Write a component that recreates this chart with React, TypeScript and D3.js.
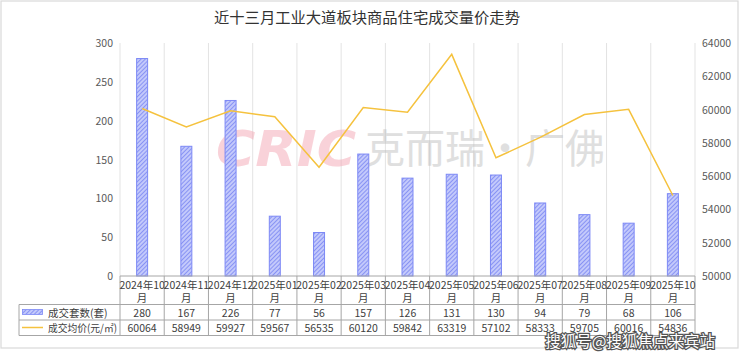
import React from "react";
import * as d3 from "d3";

const categories = ["2024年10","2024年11","2024年12","2025年01","2025年02","2025年03","2025年04","2025年05","2025年06","2025年07","2025年08","2025年09","2025年10"];
const volumes = [280, 167, 226, 77, 56, 157, 126, 131, 130, 94, 79, 68, 106];
const prices = [60064, 58949, 59927, 59567, 56535, 60120, 59842, 63319, 57102, 58333, 59705, 60016, 54836];
const leftTicks = [0, 50, 100, 150, 200, 250, 300];
const rightTicks = [50000, 52000, 54000, 56000, 58000, 60000, 62000, 64000];

const W = 740, H = 356;
const L = 120, R = 695, T = 43, B = 276;
const FONT = "'Noto Sans CJK SC', 'Noto Sans', sans-serif";

export default function App() {
  const x = d3.scaleBand<string>().domain(categories).range([L, R]);
  const yL = d3.scaleLinear().domain([0, 300]).range([B, T]);
  const yR = d3.scaleLinear().domain([50000, 64000]).range([B, T]);
  const bw = 11;
  const line = d3.line<number>().x((_, i) => (x(categories[i]) as number) + x.bandwidth() / 2).y(d => yR(d));
  const row1 = 304.5, row2 = 320, row3 = 335.5;
  const tableL = 19;
  const fs = 10.5;
  return (
    <svg width={W} height={H} style={{ position: "absolute", left: 0, top: 0, fontFamily: FONT }}>
      <defs>
        <pattern id="hatch" width="3" height="3" patternUnits="userSpaceOnUse" patternTransform="rotate(45)">
          <rect width="3" height="3" fill="#c3c9fb" />
          <line x1="0" y1="0" x2="0" y2="3" stroke="#6f7cf2" strokeWidth="1.4" />
        </pattern>
      </defs>
      <rect x={0} y={0} width={W} height={H} fill="#fff" />
      <rect x={1} y={1} width={737} height={347} fill="none" stroke="#d9d9d9" strokeWidth={1.2} />
      <text x={367} y={23} textAnchor="middle" fontSize={15.3} fill="#333">近十三月工业大道板块商品住宅成交量价走势</text>
      {categories.map((c, i) => (
        <line key={"g" + i} x1={(x(c) as number)} x2={(x(c) as number)} y1={T} y2={B} stroke="#e3e3e3" />
      ))}
      <line x1={R} x2={R} y1={T} y2={B} stroke="#e3e3e3" />
      {leftTicks.map(t => (
        <text key={"l" + t} x={113} y={yL(t) + 4} textAnchor="end" fontSize={fs} fill="#595959">{t}</text>
      ))}
      {rightTicks.map(t => (
        <text key={"r" + t} x={702} y={yR(t) + 4} textAnchor="start" fontSize={fs} fill="#595959">{t}</text>
      ))}
      <g opacity={0.5}>
        <text x={216} y={166} fontSize={50} fontWeight="bold" fontStyle="italic" fill="#f4a7b4" fontFamily="'DejaVu Sans', sans-serif" textLength={140} lengthAdjust="spacingAndGlyphs">CRIC</text>
        <text x={365} y={163} fontSize={40} fill="#c0c0c0" fontFamily={FONT}>克而瑞·广佛</text>
      </g>
      {volumes.map((v, i) => {
        const cx = (x(categories[i]) as number) + x.bandwidth() / 2;
        return <rect key={"b" + i} x={cx - bw / 2} y={yL(v)} width={bw} height={B - yL(v)} fill="url(#hatch)" stroke="#7d89f5" strokeWidth={1} />;
      })}
      <path d={line(prices) || ""} fill="none" stroke="#f5c23e" strokeWidth={1.5} />
      <line x1={L} x2={R} y1={B} y2={B} stroke="#a6a6a6" />
      <line x1={tableL} x2={R} y1={row1} y2={row1} stroke="#a6a6a6" />
      <line x1={tableL} x2={R} y1={row2} y2={row2} stroke="#a6a6a6" />
      <line x1={tableL} x2={R} y1={row3} y2={row3} stroke="#a6a6a6" />
      <line x1={tableL} x2={tableL} y1={row1} y2={row3} stroke="#a6a6a6" />
      {categories.map((c, i) => (
        <line key={"t" + i} x1={(x(c) as number)} x2={(x(c) as number)} y1={B} y2={row3} stroke="#a6a6a6" />
      ))}
      <line x1={R} x2={R} y1={B} y2={row3} stroke="#a6a6a6" />
      {categories.map((c, i) => {
        const cx = (x(c) as number) + x.bandwidth() / 2;
        return (
          <g key={"c" + i}>
            <text x={cx} y={289} textAnchor="middle" fontSize={fs} fill="#404040">{c}</text>
            <text x={cx} y={302} textAnchor="middle" fontSize={fs} fill="#404040">月</text>
            <text x={cx} y={316.5} textAnchor="middle" fontSize={fs} fill="#404040">{volumes[i]}</text>
            <text x={cx} y={332} textAnchor="middle" fontSize={fs} fill="#404040">{prices[i]}</text>
          </g>
        );
      })}
      <rect x={22.5} y={309.5} width={20} height={5} fill="url(#hatch)" stroke="#7d89f5" strokeWidth={0.8} />
      <text x={48} y={316.5} fontSize={fs} fill="#404040">成交套数(套)</text>
      <line x1={22} x2={43} y1={327.5} y2={327.5} stroke="#f5c23e" strokeWidth={1.5} />
      <text x={48} y={332} fontSize={fs} fill="#404040" textLength={69} lengthAdjust="spacingAndGlyphs">成交均价(元/㎡)</text>
      <text x={715} y={347} textAnchor="end" fontSize={15.5} fill="#fff" stroke="#555" strokeWidth={2.5} paintOrder="stroke" fontFamily={FONT}>搜狐号@搜狐焦点来宾站</text>
    </svg>
  );
}
